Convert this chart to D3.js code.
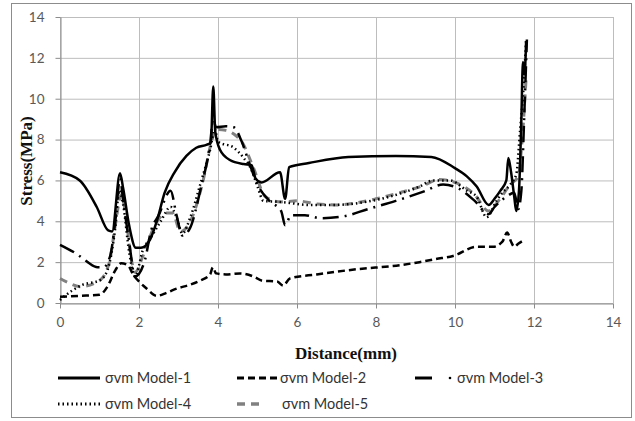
<!DOCTYPE html>
<html><head><meta charset="utf-8">
<script src="https://cdn.jsdelivr.net/npm/d3@7"></script>
<style>body{margin:0;background:#fff}svg{display:block}</style>
</head><body>
<svg id="c" width="635" height="421"></svg>
<script>
const seriesNames = ["σvm Model-1","σvm Model-2","σvm Model-3","σvm Model-4","σvm Model-5"];
const xTicks = [0,2,4,6,8,10,12,14];
const yTicks = [0,2,4,6,8,10,12,14];
const model1 = [[0,6.4],[0.5,6.0],[0.93,4.7],[1.22,3.55],[1.32,3.5],[1.52,6.35],[1.6,5.6],[1.75,3.8],[1.92,2.7],[2.05,2.7],[2.28,3.1],[2.45,4.0],[2.65,5.4],[2.9,6.4],[3.2,7.2],[3.45,7.6],[3.72,7.75],[3.82,7.85],[3.88,10.6],[3.93,8.4],[4.05,7.5],[4.3,7.0],[4.65,6.8],[4.85,6.75],[4.95,6.1],[5.1,5.9],[5.57,6.4],[5.7,5.1],[5.8,6.65],[6.3,6.85],[7.3,7.15],[8.5,7.2],[9.4,7.15],[10.0,6.6],[10.3,6.2],[10.55,5.7],[10.85,4.8],[11.0,5.1],[11.15,5.5],[11.3,6.0],[11.35,7.1],[11.42,6.4],[11.5,5.2],[11.55,4.5],[11.62,5.5],[11.68,9.0],[11.72,11.8],[11.76,11.2],[11.8,12.8]];
const model2 = [[0,0.3],[0.5,0.35],[1.0,0.4],[1.2,0.8],[1.4,1.6],[1.55,1.95],[1.72,1.85],[1.85,1.4],[2.0,1.05],[2.2,0.7],[2.45,0.35],[2.7,0.5],[2.95,0.7],[3.3,0.9],[3.55,1.1],[3.8,1.4],[3.87,1.75],[3.95,1.45],[4.2,1.4],[4.55,1.45],[4.95,1.25],[5.1,1.1],[5.5,1.05],[5.65,0.85],[5.82,1.2],[6.5,1.4],[7.5,1.65],[8.6,1.85],[9.1,2.0],[9.5,2.15],[9.95,2.3],[10.55,2.75],[10.96,2.75],[11.2,3.0],[11.32,3.45],[11.42,3.0],[11.5,2.75],[11.6,2.9],[11.77,3.1]];
const model3 = [[0,2.85],[0.46,2.35],[0.7,2.0],[0.95,1.75],[1.1,1.75],[1.27,2.3],[1.4,4.0],[1.52,6.1],[1.6,5.0],[1.75,3.0],[1.9,1.3],[2.15,2.1],[2.3,3.5],[2.5,4.3],[2.8,5.5],[2.95,4.3],[3.1,3.3],[3.3,3.7],[3.55,5.5],[3.8,7.8],[3.88,9.0],[3.95,8.6],[4.2,8.65],[4.4,8.6],[4.6,7.9],[4.8,6.8],[5.0,5.8],[5.3,5.0],[5.6,4.5],[5.7,3.8],[5.85,4.3],[6.2,4.3],[6.6,4.15],[7.2,4.25],[7.8,4.6],[8.5,5.0],[9.2,5.45],[9.7,5.8],[10.1,5.6],[10.5,5.0],[10.85,4.35],[11.0,4.7],[11.3,5.2],[11.5,5.4],[11.6,4.6],[11.68,5.5],[11.75,9.0],[11.82,12.9]];
const model4 = [[0,0.15],[0.3,0.6],[0.58,0.9],[1.0,1.1],[1.2,1.6],[1.4,3.7],[1.5,5.5],[1.6,4.8],[1.75,2.5],[1.9,1.3],[2.1,2.6],[2.3,3.2],[2.55,4.0],[2.8,4.7],[2.95,4.2],[3.1,3.4],[3.3,4.2],[3.55,5.8],[3.8,7.5],[3.92,8.5],[4.0,7.9],[4.4,7.6],[4.65,7.1],[4.85,6.5],[5.0,5.7],[5.15,5.0],[5.57,4.95],[5.8,4.9],[6.3,4.8],[6.9,4.8],[7.75,4.95],[8.6,5.35],[9.1,5.7],[9.45,6.0],[9.87,6.0],[10.3,5.5],[10.55,5.2],[10.8,4.2],[11.05,5.0],[11.2,5.4],[11.4,5.8],[11.55,6.3],[11.65,8.5],[11.75,11.0],[11.8,12.9]];
const model5 = [[0,1.2],[0.2,1.0],[0.5,0.8],[1.0,1.1],[1.25,2.0],[1.4,3.8],[1.55,5.3],[1.65,4.5],[1.8,2.2],[1.9,1.5],[2.1,2.3],[2.4,3.8],[2.7,4.4],[2.85,4.4],[3.05,3.5],[3.3,4.0],[3.6,5.8],[3.85,8.0],[3.95,8.5],[4.2,8.45],[4.45,8.2],[4.6,7.9],[4.9,6.6],[5.2,5.2],[5.6,4.95],[6.0,5.0],[6.5,4.85],[7.0,4.8],[7.5,4.9],[8.0,5.1],[8.6,5.4],[9.2,5.75],[9.6,6.05],[10.0,5.9],[10.5,5.3],[10.85,4.5],[11.1,5.0],[11.4,5.8],[11.6,6.2],[11.7,8.0],[11.8,11.0]];

const seriesData = [model1, model2, model3, model4, model5];
const styles = [
  {color:"#000", width:2.5, dash:null},
  {color:"#000", width:2.5, dash:"7,4"},
  {color:"#000", width:2.5, dash:"16,6,2,6"},
  {color:"#000", width:2.5, dash:"1.5,3"},
  {color:"#808080", width:3, dash:"8,6"}
];

const svg = d3.select("#c");
svg.append("rect").attr("x",11.5).attr("y",3.5).attr("width",620).attr("height",414)
  .attr("fill","#fff").attr("stroke","#8c8c8c").attr("stroke-width",1);

const x = d3.scaleLinear().domain([0,14]).range([60,613]);
const y = d3.scaleLinear().domain([0,14]).range([303,17]);

// grid
svg.append("g").selectAll("line").data(yTicks).join("line")
  .attr("x1",x(0)).attr("x2",x(14)).attr("y1",d=>y(d)+0.5).attr("y2",d=>y(d)+0.5)
  .attr("stroke","#bdbdbd").attr("stroke-width",1);
svg.append("g").selectAll("line").data(xTicks).join("line")
  .attr("y1",y(0)).attr("y2",y(14)).attr("x1",d=>x(d)+0.5).attr("x2",d=>x(d)+0.5)
  .attr("stroke","#bdbdbd").attr("stroke-width",1);

// axes
const xAxis = svg.append("g").attr("transform",`translate(0,${y(0)+0.5})`)
  .call(d3.axisBottom(x).tickValues(xTicks).tickSize(5).tickSizeOuter(0).tickPadding(9));
const yAxis = svg.append("g").attr("transform",`translate(${x(0)+0.5},0)`)
  .call(d3.axisLeft(y).tickValues(yTicks).tickSize(5).tickSizeOuter(0).tickPadding(11));
[xAxis,yAxis].forEach(a=>{
  a.select(".domain").attr("stroke","#8c8c8c");
  a.selectAll(".tick line").attr("stroke","#8c8c8c");
  a.selectAll(".tick text").attr("fill","#595959").attr("font-family","Lato, 'Open Sans', sans-serif").attr("font-size",13.5);
});

// lines
const line = d3.line().x(d=>x(d[0])).y(d=>y(d[1])).curve(d3.curveMonotoneX);
const order = [4,3,2,1,0];
order.forEach(i=>{
  const s = styles[i];
  svg.append("path").datum(seriesData[i]).attr("d",line)
    .attr("fill","none").attr("stroke",s.color).attr("stroke-width",s.width)
    .attr("stroke-dasharray",s.dash).attr("stroke-linejoin","round");
});

// titles
svg.append("text").attr("x",346).attr("y",359).attr("text-anchor","middle")
  .attr("font-family","'Liberation Serif', serif").attr("font-weight","bold").attr("font-size",17)
  .attr("fill","#111").text("Distance(mm)");
svg.append("text").attr("transform","translate(32,161) rotate(-90)").attr("text-anchor","middle")
  .attr("font-family","'Liberation Serif', serif").attr("font-weight","bold").attr("font-size",17)
  .attr("fill","#111").text("Stress(MPa)");

// legend
const legPos = [[58,378],[237,378],[415,378],[58,404],[237,404]];
const legTextX = [105,280,457,105,282];
seriesData.forEach((d,i)=>{
  const s = styles[i];
  const [lx,ly] = legPos[i];
  if(i===2){
    svg.append("line").attr("x1",lx).attr("x2",lx+17).attr("y1",ly).attr("y2",ly)
      .attr("stroke","#000").attr("stroke-width",3);
    svg.append("circle").attr("cx",lx+35).attr("cy",ly).attr("r",1.3).attr("fill","#000");
  } else {
    svg.append("line").attr("x1",lx).attr("x2",lx+(i===4?26:42)).attr("y1",ly).attr("y2",ly)
      .attr("stroke",s.color).attr("stroke-width",s.width+0.5).attr("stroke-dasharray",s.dash);
  }
  svg.append("text").attr("x",legTextX[i]).attr("y",ly+5)
    .attr("font-family","Lato, 'Open Sans', sans-serif").attr("font-size",14.5).attr("fill","#333")
    .text(seriesNames[i]);
});
</script>
</body></html>
